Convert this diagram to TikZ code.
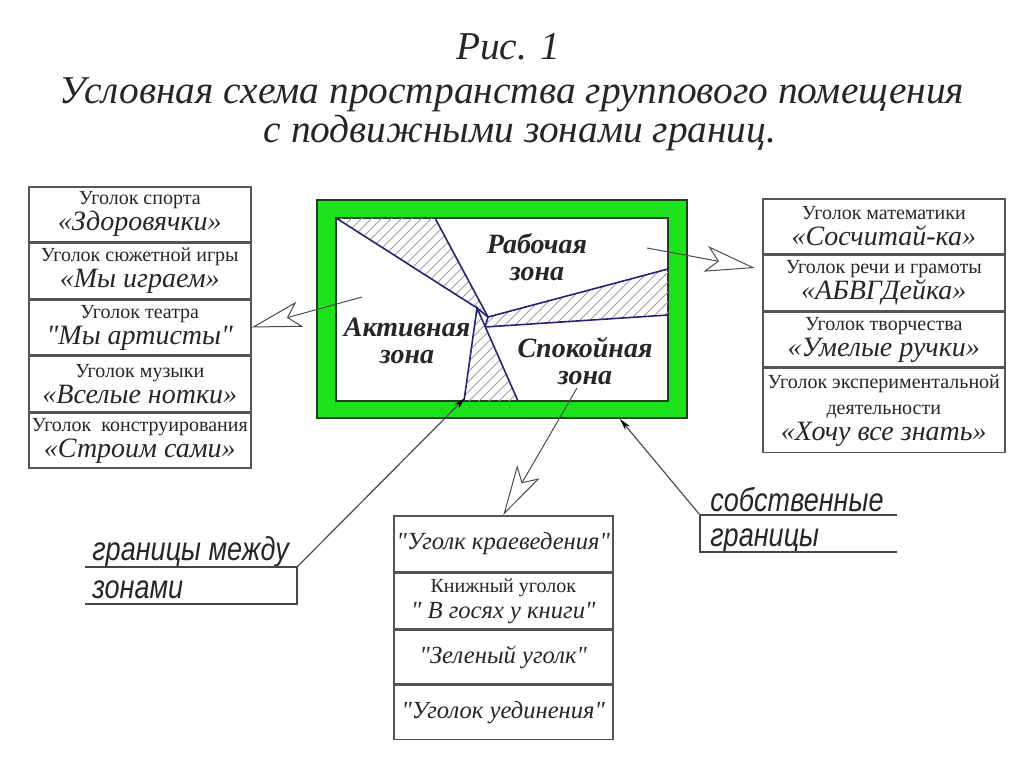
\documentclass[tikz,border=0pt]{standalone}
\usepackage{fontspec}
\setmainfont{Liberation Serif}[Ligatures=TeXOff]
\newfontfamily\gostfont[FakeStretch=0.82]{Liberation Sans}
\usetikzlibrary{arrows.meta, positioning}
\definecolor{roomgreen}{RGB}{28,226,28}
\definecolor{roomedge}{HTML}{1E3F22}
\definecolor{zoneline}{HTML}{24247A}
\definecolor{boxline}{HTML}{555555}
\definecolor{inkgray}{HTML}{262626}
\newcommand\nmfont{\fontsize{14}{13}\itshape\selectfont}
\newcommand\lowfont{\fontsize{12.3}{13}\itshape\selectfont}

\begin{document}
\begin{tikzpicture}[x=0.5pt, y=-0.5pt,
  title/.style={font=\fontsize{19.7}{24}\itshape\selectfont, text=inkgray, inner sep=0pt},
  zone/.style={font=\fontsize{14}{13.5}\bfseries\itshape\selectfont, text=inkgray, align=center, inner sep=0pt},
  corner/.style={draw=boxline, line width=0.8pt, minimum height=27.5pt, inner sep=1pt, align=center,
    text=inkgray, font=\fontsize{10}{13}\selectfont},
  leftbox/.style={corner, minimum width=111pt},
  rightbox/.style={corner, minimum width=121pt},
  lowbox/.style={corner, minimum width=109.5pt, anchor=north west},
  hatch/.style={draw=gray!75, line width=0.4pt},
  zoneedge/.style={draw=zoneline, line width=0.8pt},
  plane/.style={draw=gray!60!black, line width=0.5pt, -{Stealth[open, length=25pt, width=13pt, inset=6pt]}},
  leader/.style={draw=gray!60!black, line width=0.6pt, -{Stealth[length=6pt, width=3pt, color=black]}},
  shelf/.style={draw=gray!55!black, line width=0.8pt},
  gost/.style={font=\fontsize{16.5}{18}\gostfont\itshape, text=inkgray, anchor=base west, inner sep=0pt}]
  \useasboundingbox (0,0) rectangle (1024,767);

  % Title
  \node[title] (fig) at (508,47) {Рис. 1};
  \node[title] (cap1) at (512,95) {Условная схема пространства группового помещения};
  \node[title] (cap2) at (520,133) {с подвижными зонами границ.};

  % Room
  \filldraw[draw=roomedge, fill=roomgreen, line width=1pt] (317,200) rectangle (687,418);
  \filldraw[draw=roomedge, fill=white, line width=1pt] (336,218) rectangle (668,401);
  \coordinate (p) at (477,308);
  \coordinate (q) at (488,317);
  \coordinate (r) at (485,327);

  % Hatched borders
  \begin{scope}
    \clip (336,218) -- (435,218) -- (q) -- (p) -- cycle;
    \foreach \hx in {100,110,...,720} \draw[hatch] (\hx,430) -- ++(260,-260);
  \end{scope}
  \begin{scope}
    \clip (q) -- (668,269) -- (668,315) -- (r) -- cycle;
    \foreach \hx in {300,310,...,720} \draw[hatch] (\hx,430) -- ++(260,-260);
  \end{scope}
  \begin{scope}
    \clip (p) -- (464,401) -- (518,401) -- cycle;
    \foreach \hx in {300,310,...,560} \draw[hatch] (\hx,430) -- ++(260,-260);
  \end{scope}

  % Zone lines
  \draw[zoneedge] (336,218) -- (p) -- (q) -- (r);
  \draw[zoneedge] (435,218) -- (q) -- (668,269);
  \draw[zoneedge] (r) -- (668,315);
  \draw[zoneedge] (464,401) -- (p) -- (518,401);

  % Zones
  \node[zone] (work) at (537,257) {Рабочая\\зона};
  \node[zone] (active) at (407,341) {Активная\\зона};
  \node[zone] (calm) at (585,361) {Спокойная\\зона};

  % Left corners
  \node[leftbox, anchor=north west] (sport) at (28,186) {Уголок спорта\\{\nmfont «Здоровячки»}};
  \node[leftbox, below=0pt of sport] (play) {Уголок сюжетной игры\\{\nmfont «Мы играем»}};
  \node[leftbox, below=0pt of play] (theatre) {Уголок театра\\{\nmfont "Мы артисты"}};
  \node[leftbox, below=0pt of theatre] (music) {Уголок музыки\\{\nmfont «Вселые нотки»}};
  \node[leftbox, below=0pt of music] (build) {Уголок\ \ конструирования\\{\nmfont «Строим сами»}};

  % Right corners
  \node[rightbox, anchor=north west] (math) at (762,198) {Уголок математики\\{\nmfont «Сосчитай-ка»}};
  \node[rightbox, below=0pt of math] (speech) {Уголок речи и грамоты\\{\nmfont «АБВГДейка»}};
  \node[rightbox, below=0pt of speech] (craft) {Уголок творчества\\{\nmfont «Умелые ручки»}};
  \node[rightbox, below=0pt of craft, minimum height=42pt] (exper) {Уголок экспериментальной\\деятельности\\{\nmfont «Хочу все знать»}};

  % Lower corners
  \node[lowbox, minimum height=28pt] (kraev) at (393,515) {\lowfont "Уголк краеведения"};
  \node[lowbox] (books) at (kraev.south west) {Книжный уголок\\{\lowfont "\ В госях у книги"}};
  \node[lowbox, minimum height=27pt] (green) at (books.south west) {\lowfont "Зеленый уголк"};
  \node[lowbox, minimum height=27pt] (alone) at (green.south west) {\lowfont "Уголок уединения"};

  % Arrows
  \coordinate (actfrom) at (362,297);
  \coordinate (workfrom) at (647,248);
  \coordinate (workto) at (755,268);
  \coordinate (calmfrom) at (577,388);
  \draw[plane] (actfrom) -- (theatre.east);
  \draw[plane] (workfrom) -- (workto);
  \draw[plane] (calmfrom) -- (kraev.north);

  % Labels for borders
  \node[gost] (between) at (92,560) {границы между};
  \node[gost] (zones) at (92,598) {зонами};
  \coordinate (shelfa) at (297,567);
  \coordinate (borda) at (465,398);
  \draw[shelf] (85,567) -- (shelfa) -- (297,604) -- (85,604);
  \draw[leader] (shelfa) -- (borda);

  \node[gost] (own) at (710,511) {собственные};
  \node[gost] (bounds) at (710,546) {границы};
  \coordinate (shelfb) at (700,515);
  \coordinate (bordb) at (620,419);
  \draw[shelf] (897,515) -- (shelfb) -- (700,552) -- (897,552);
  \draw[leader] (shelfb) -- (bordb);
\end{tikzpicture}
\end{document}
